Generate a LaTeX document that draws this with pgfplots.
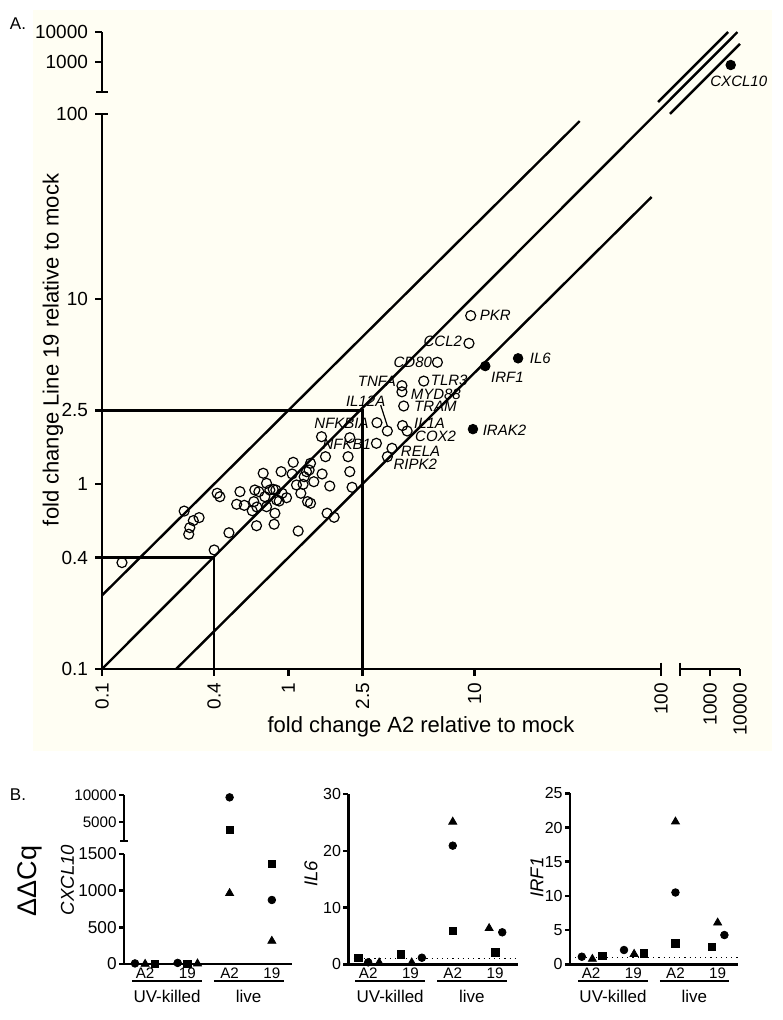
\documentclass[border=0pt]{standalone}
\usepackage{pgfplots}
\pgfplotsset{compat=1.18}
\usepackage{fontspec}
\setmainfont{Liberation Sans}
\definecolor{cream}{RGB}{255,254,243}
\tikzset{gl/.style={font=\fontsize{7.5}{8}\selectfont\itshape, inner sep=0pt}}
\pgfplotsset{
  every axis/.append style={scale only axis, clip=false, anchor=south west,
    axis line style={-, line width=1.25pt}, tick style={black, line width=1.25pt},
    tick align=outside, xminorticks=false, yminorticks=false, scaled ticks=false,
    /pgf/number format/assume math mode=true, /pgf/number format/1000 sep={}},
  panelb/.style={axis x line*=bottom, axis y line*=left, major tick length=2.5pt,
    xtick={1,2,3,4}, xticklabels={A2,19,A2,19}, xtick style={draw=none},
    xticklabel style={font=\fontsize{7.6}{8}\selectfont, yshift=4pt},
    yticklabel style={font=\fontsize{8}{9}\selectfont, inner xsep=1pt}}
}
\newcommand\groups{%
  \draw[line width=1pt] ([yshift=-8.5pt]axis cs:0.69,0) -- ([yshift=-8.5pt]axis cs:2.35,0);
  \draw[line width=1pt] ([yshift=-8.5pt]axis cs:2.63,0) -- ([yshift=-8.5pt]axis cs:4.28,0);
  \node[font=\fontsize{8.5}{9}\selectfont, inner sep=0pt] at ([yshift=-16.2pt]axis cs:1.52,0) {UV-killed};
  \node[font=\fontsize{8.5}{9}\selectfont, inner sep=0pt] at ([yshift=-16.2pt]axis cs:3.45,0) {live};}

\begin{document}
\begin{tikzpicture}
\useasboundingbox (0,0) rectangle (391pt,-510pt);
\fill[cream] (16.5pt,-5pt) rectangle (386pt,-375.5pt);

% ---------- panel A, main log-log axis ----------
\begin{axis}[at={(51pt,-334.5pt)}, width=279.5pt, height=277.5pt,
  xmode=log, ymode=log, xmin=0.1, xmax=100, ymin=0.1, ymax=100,
  axis x line*=bottom, axis y line*=left, major tick length=3.5pt,
  xtick={0.1,0.4,1,2.5,10,100}, xticklabels={0.1,0.4,1,2.5,10,100},
  ytick={0.1,0.4,1,2.5,10,100}, yticklabels={0.1,0.4,1,2.5,10,100},
  xticklabel style={rotate=90, anchor=east, font=\fontsize{9.5}{10}\selectfont},
  yticklabel style={font=\fontsize{9.5}{10}\selectfont}]
\addplot[black, line width=1.2pt] coordinates {(0.1,0.1) (257,277)};
\addplot[black, line width=1.2pt] coordinates {(0.1,0.25) (36.6,91.5)};
\addplot[black, line width=1.2pt] coordinates {(0.25,0.1) (89,35.6)};
\addplot[black, line width=1.2pt] coordinates {(0.1,2.5) (2.5,2.5) (2.5,0.1)};
\addplot[black, line width=1.2pt] coordinates {(0.1,0.4) (0.4,0.4) (0.4,0.1)};
% open circles
\addplot[only marks, mark=o, mark size=2.5pt, mark options={black, line width=0.6pt}] coordinates {
 (0.128,0.376) (0.276,0.714) (0.296,0.581) (0.292,0.535) (0.309,0.634) (0.332,0.658)
 (0.400,0.440) (0.415,0.891) (0.429,0.854) (0.480,0.545) (0.528,0.777) (0.550,0.909)
 (0.580,0.767) (0.640,0.717) (0.653,0.803) (0.661,0.928) (0.675,0.595) (0.678,0.751)
 (0.695,0.909) (0.733,1.143) (0.748,0.854) (0.764,1.009) (0.764,0.754) (0.796,0.928)
 (0.829,0.936) (0.847,0.695) (0.839,0.606) (0.865,0.820) (0.893,0.809) (0.915,1.166)
 (0.926,0.891) (0.978,0.843) (1.048,1.133) (1.062,1.31) (1.129,0.557) (1.167,0.891)
 (1.106,0.988) (1.2,0.996) (1.216,1.095) (1.252,1.166) (1.293,1.19) (1.315,1.294)
 (1.268,0.803) (1.315,0.787) (1.370,1.029) (1.507,1.802) (1.518,1.133) (1.583,1.405)
 (1.615,0.695) (1.669,0.975) (1.761,0.661) (2.137,1.78) (2.092,1.405) (2.137,1.166)
 (2.198,0.960) (2.97,1.66) (3.40,1.935) (3.60,1.56) (3.40,1.405) (2.99,2.145)
 (4.10,2.07) (4.34,1.935) (4.16,2.64) (4.07,3.15) (4.07,3.40) (5.33,3.60)
 (6.31,4.55) (9.32,5.76) (9.52,8.13) (0.857,0.928)};
% filled circles
\addplot[only marks, mark=*, mark size=2.4pt, black] coordinates {(11.4,4.34) (17.1,4.78) (9.79,1.98)};
\node[gl,anchor=west] at (axis cs:10.6,8.12) {PKR};
\node[gl,anchor=east] at (axis cs:8.59,5.88) {CCL2};
\node[gl,anchor=east] at (axis cs:5.93,4.55) {CD80};
\node[gl,anchor=west] at (axis cs:5.79,3.65) {TLR3};
\node[gl,anchor=east] at (axis cs:3.80,3.60) {TNFA};
\node[gl,anchor=west] at (axis cs:4.52,3.05) {MYD88};
\node[gl,anchor=west] at (axis cs:4.71,2.62) {TRAM};
\node[gl] at (axis cs:2.60,2.79) {IL12A};
\node[gl,anchor=west] at (axis cs:4.71,2.14) {IL1A};
\node[gl,anchor=west] at (axis cs:4.77,1.82) {COX2};
\node[gl,anchor=east] at (axis cs:2.71,2.14) {NFKBIA};
\node[gl,anchor=east] at (axis cs:2.79,1.63) {NFKB1};
\node[gl,anchor=west] at (axis cs:4.0,1.50) {RELA};
\node[gl,anchor=west] at (axis cs:3.65,1.28) {RIPK2};
\node[gl,anchor=west] at (axis cs:12.2,3.78) {IRF1};
\node[gl,anchor=west] at (axis cs:19.7,4.78) {IL6};
\node[gl,anchor=west] at (axis cs:11.0,1.96) {IRAK2};
\draw[line width=0.6pt] (axis cs:3.13,2.67) -- (axis cs:3.40,2.06);
\end{axis}

% top break of the y axis
\begin{axis}[at={(51pt,-46pt)}, width=1pt, height=30pt,
  ymode=log, ymin=100, ymax=10000, xmin=0, xmax=1,
  axis x line=none, axis y line*=left, major tick length=3.5pt,
  ytick={1000,10000}, yticklabels={1000,10000},
  yticklabel style={font=\fontsize{9.5}{10}\selectfont}]
\end{axis}

% right break of the x axis
\begin{axis}[at={(340pt,-334.5pt)}, width=30pt, height=1pt,
  xmode=log, xmin=100, xmax=10000, ymin=0, ymax=1,
  axis y line=none, axis x line*=bottom, major tick length=3.5pt,
  xtick={1000,10000}, xticklabels={1000,10000},
  xticklabel style={rotate=90, anchor=east, font=\fontsize{9.5}{10}\selectfont}]
\end{axis}

% corner region beyond both breaks
\begin{axis}[at={(340pt,-46pt)}, width=30pt, height=30pt,
  xmode=log, ymode=log, xmin=100, xmax=10000, ymin=100, ymax=10000, hide axis]
\addplot[black, line width=1.2pt] coordinates {(18.5,46.3) (4000,10000)};
\addplot[black, line width=1.2pt] coordinates {(46.4,18.6) (10000,4000)};
\addplot[only marks, mark=*, mark size=2.4pt, black] coordinates {(4900,794)};
\node[gl,anchor=west] at (axis cs:1000,220) {CXCL10};
\end{axis}

% axis break caps
\draw[line width=1.25pt] (330.5pt,-331.3pt) -- (330.5pt,-338pt);
\draw[line width=1.25pt] (340pt,-331.3pt) -- (340pt,-338pt);
\draw[line width=1.25pt] (48pt,-57pt) -- (54.2pt,-57pt);
\draw[line width=1.25pt] (48pt,-46pt) -- (54.2pt,-46pt);

\node[font=\fontsize{11}{12}\selectfont] at (210.5pt,-363.5pt) {fold change A2 relative to mock};
\node[font=\fontsize{11}{12}\selectfont, rotate=90] at (26.5pt,-175pt) {fold change Line 19 relative to mock};
\node[font=\fontsize{8.5}{9}\selectfont] at (9pt,-12pt) {A.};
\node[font=\fontsize{8.5}{9}\selectfont] at (9pt,-397.5pt) {B.};

% ---------- panel B ----------
\begin{axis}[panelb, at={(62pt,-482pt)}, width=83.85pt, height=55pt,
  xmin=0.5, xmax=4.47, ymin=0, ymax=1500, ytick={0,500,1000,1500},
  yticklabel style={font=\fontsize{8.6}{9}\selectfont}]
\addplot[only marks, mark=*, mark size=1.9pt, black] coordinates {(0.76,8) (1.77,15) (4,873)};
\addplot[only marks, mark=triangle*, mark size=2.3pt, black] coordinates {(1.0,0) (2.24,5) (3,965) (4,314)};
\addplot[only marks, mark=square*, mark size=1.8pt, black] coordinates {(1.24,5) (2.0,0) (4,1360)};
\groups
\end{axis}
\begin{axis}[at={(62pt,-420.5pt)}, width=83.85pt, height=23pt,
  xmin=0.5, xmax=4.47, ymin=1500, ymax=10000, ytick={5000,10000},
  axis x line=none, axis y line*=left, major tick length=2.5pt,
  yticklabel style={font=\fontsize{7.6}{8}\selectfont, inner xsep=1pt}]
\addplot[only marks, mark=*, mark size=1.9pt, black] coordinates {(3,9570)};
\addplot[only marks, mark=square*, mark size=1.8pt, black] coordinates {(3,3625)};
\end{axis}
\draw[line width=1.25pt] (60.2pt,-420.5pt) -- (64.2pt,-420.5pt);

\begin{axis}[panelb, at={(174.15pt,-482.15pt)}, width=85pt, height=85.15pt,
  xmin=0.53, xmax=4.55, ymin=0, ymax=30, ytick={0,10,20,30}]
\addplot[black, dotted, line width=0.6pt] coordinates {(0.53,1) (4.55,1)};
\addplot[only marks, mark=*, mark size=1.9pt, black] coordinates {(1.0,0.35) (2.27,1.16) (3,20.9) (4.17,5.64)};
\addplot[only marks, mark=square*, mark size=1.8pt, black] coordinates {(0.77,1.06) (1.78,1.76) (3,5.93) (4.01,2.1)};
\addplot[only marks, mark=triangle*, mark size=2.3pt, black] coordinates {(1.26,0.3) (2.03,0.3) (3,25.1) (3.86,6.35)};
\groups
\end{axis}

\begin{axis}[panelb, at={(285pt,-482.15pt)}, width=84.15pt, height=85.5pt,
  xmin=0.5, xmax=4.49, ymin=0, ymax=25, ytick={0,5,10,15,20,25}]
\addplot[black, dotted, line width=0.6pt] coordinates {(0.5,1) (4.49,1)};
\addplot[only marks, mark=*, mark size=1.9pt, black] coordinates {(0.78,1.11) (1.78,2.09) (3,10.5) (4.16,4.28)};
\addplot[only marks, mark=triangle*, mark size=2.3pt, black] coordinates {(1.03,0.77) (2.02,1.5) (3,20.85) (4.0,6.08)};
\addplot[only marks, mark=square*, mark size=1.8pt, black] coordinates {(1.27,1.21) (2.26,1.6) (3,3.07) (3.86,2.57)};
\groups
\end{axis}

\node[font=\fontsize{13.5}{14}\selectfont, rotate=90] at (15pt,-440.5pt) {ΔΔCq};
\node[font=\fontsize{9.3}{10}\selectfont\itshape, rotate=90] at (33.75pt,-440pt) {CXCL10};
\node[font=\fontsize{9.3}{10}\selectfont\itshape, rotate=90] at (155.5pt,-437pt) {IL6};
\node[font=\fontsize{9.3}{10}\selectfont\itshape, rotate=90] at (268.5pt,-438.75pt) {IRF1};
\end{tikzpicture}
\end{document}
